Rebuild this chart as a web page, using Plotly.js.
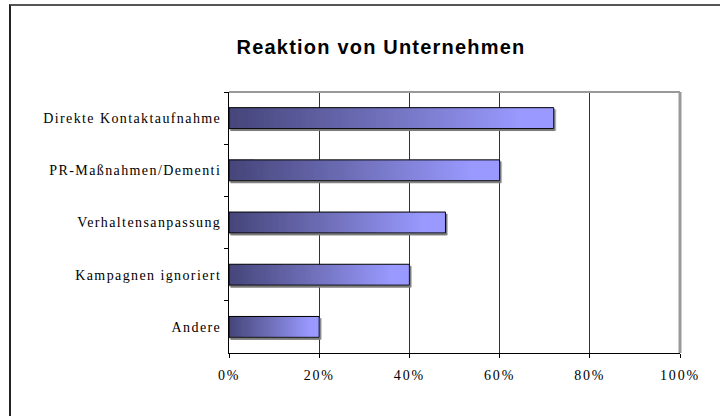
<!DOCTYPE html>
<html>
<head>
<meta charset="utf-8">
<script src="https://cdn.plot.ly/plotly-3.0.1.min.js"></script>
<style>
  html, body { margin: 0; padding: 0; background: #fff; }
  #wrap { position: relative; width: 720px; height: 416px; }
  #chart { width: 720px; height: 416px; }
  #frame { position: absolute; left: 9px; top: 4px; width: 720px; height: 420px;
           border-top: 2px solid #555; border-left: 2px solid #222; pointer-events: none; }
  .ytick text { letter-spacing: 1.4px; }
  .xtick text { letter-spacing: 1.8px; }
  .gtitle { letter-spacing: 1.2px; }
</style>
</head>
<body>
<div id="wrap">
  <div id="chart"></div>
  <div id="frame"></div>
</div>
<script>
const chartTitle = "Reaktion von Unternehmen";
const categories = ["Direkte Kontaktaufnahme", "PR-Maßnahmen/Dementi", "Verhaltensanpassung", "Kampagnen ignoriert", "Andere"];
const shares = [0.72, 0.60, 0.48, 0.40, 0.20];
const xTickVals = [0, 0.2, 0.4, 0.6, 0.8, 1.0];

const trace = {
  type: "bar",
  orientation: "h",
  y: categories,
  x: shares,
  width: 0.4,
  marker: { color: "#9999ff", line: { color: "#000", width: 1 } },
  hoverinfo: "none"
};

const layout = {
  width: 720, height: 416,
  margin: { l: 229, r: 40, t: 92, b: 63, pad: 0 },
  paper_bgcolor: "#fff", plot_bgcolor: "#fff",
  showlegend: false,
  title: {
    text: "<b>" + chartTitle + "</b>",
    font: { family: "Liberation Sans, Arial, sans-serif", size: 20, color: "#000" },
    x: 381 / 720, xref: "container", xanchor: "center",
    y: 1 - 47 / 416, yref: "container", yanchor: "middle"
  },
  xaxis: {
    range: [0, 1],
    tickvals: xTickVals,
    tickformat: ".0%",
    showgrid: true, gridcolor: "#333", gridwidth: 1,
    zeroline: false,
    showline: true, linecolor: "#000", linewidth: 1,
    ticks: "outside", ticklen: 4, tickcolor: "#000",
    ticklabelstandoff: 5,
    tickfont: { family: "Liberation Serif, Times New Roman, serif", size: 14, color: "#000" },
    fixedrange: true
  },
  yaxis: {
    type: "category",
    autorange: "reversed",
    tickson: "boundaries",
    showgrid: false,
    zeroline: false,
    showline: true, linecolor: "#000", linewidth: 1,
    ticks: "outside", ticklen: 4, tickcolor: "#000",
    ticklabelstandoff: 4,
    tickfont: { family: "Liberation Serif, Times New Roman, serif", size: 14, color: "#000" },
    fixedrange: true
  },
  shapes: [
    { type: "line", xref: "paper", yref: "paper", x0: 0, x1: 1, y0: 1, y1: 1,
      line: { color: "#999", width: 2 } },
    { type: "line", xref: "paper", yref: "paper", x0: 1, x1: 1, y0: 0, y1: 1,
      line: { color: "#999", width: 3 } }
  ]
};

Plotly.newPlot("chart", [trace], layout, { displayModeBar: false, staticPlot: true }).then(function (gd) {
  const svgNS = "http://www.w3.org/2000/svg";
  const svg = gd.querySelector(".main-svg");
  let defs = svg.querySelector("defs");
  if (!defs) { defs = document.createElementNS(svgNS, "defs"); svg.insertBefore(defs, svg.firstChild); }
  const grad = document.createElementNS(svgNS, "linearGradient");
  grad.setAttribute("id", "barGrad");
  grad.setAttribute("x1", "0"); grad.setAttribute("x2", "1");
  grad.setAttribute("y1", "0"); grad.setAttribute("y2", "0");
  [["0", "#45457a"], ["0.45", "#6e6eb8"], ["0.9", "#9999ff"], ["1", "#9999ff"]].forEach(function (s) {
    const st = document.createElementNS(svgNS, "stop");
    st.setAttribute("offset", s[0]);
    st.setAttribute("stop-color", s[1]);
    grad.appendChild(st);
  });
  defs.appendChild(grad);
  const filt = document.createElementNS(svgNS, "filter");
  filt.setAttribute("id", "barShadow");
  filt.setAttribute("x", "-5%"); filt.setAttribute("y", "-20%");
  filt.setAttribute("width", "115%"); filt.setAttribute("height", "150%");
  const ds = document.createElementNS(svgNS, "feDropShadow");
  ds.setAttribute("dx", "1.5"); ds.setAttribute("dy", "2");
  ds.setAttribute("stdDeviation", "0");
  ds.setAttribute("flood-color", "#7a7a7a");
  filt.appendChild(ds);
  defs.appendChild(filt);
  gd.querySelectorAll(".trace.bars .point path").forEach(function (p) {
    p.style.fill = "url(#barGrad)";
    p.setAttribute("filter", "url(#barShadow)");
  });
});
</script>
</body>
</html>
